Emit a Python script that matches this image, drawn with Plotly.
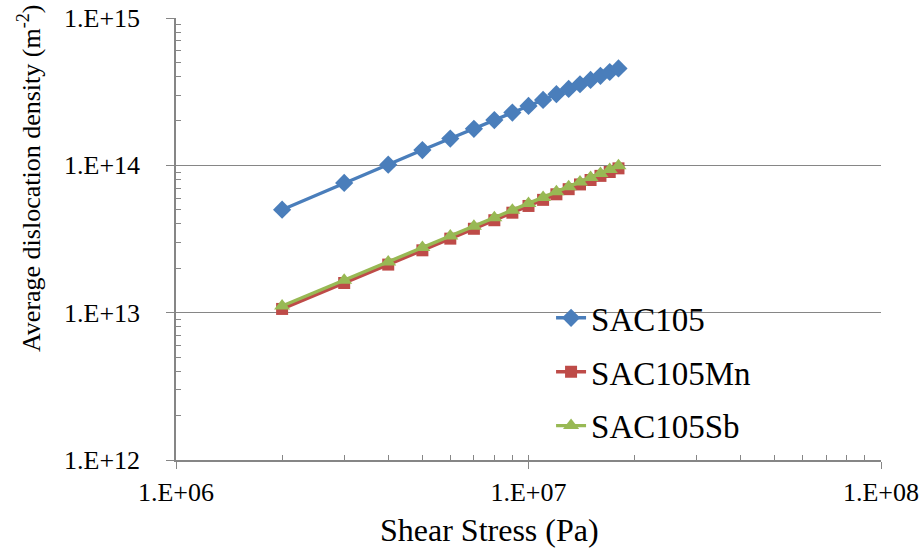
import plotly.graph_objects as go

# Shear stress (Pa)
shear_stress = [2e6, 3e6, 4e6, 5e6, 6e6, 7e6, 8e6, 9e6, 10e6, 11e6, 12e6,
                13e6, 14e6, 15e6, 16e6, 17e6, 18e6]

# Average dislocation density (m^-2)
sac105 = [5.0e13, 7.6e13, 1.01e14, 1.27e14, 1.52e14, 1.77e14, 2.03e14, 2.28e14,
          2.53e14, 2.78e14, 3.04e14, 3.30e14, 3.55e14, 3.80e14, 4.05e14, 4.30e14, 4.55e14]
sac105mn = [1.06e13, 1.59e13, 2.12e13, 2.65e13, 3.18e13, 3.71e13, 4.24e13, 4.77e13,
            5.30e13, 5.83e13, 6.36e13, 6.89e13, 7.42e13, 7.95e13, 8.48e13, 9.01e13, 9.54e13]
sac105sb = [1.11e13, 1.66e13, 2.21e13, 2.77e13, 3.31e13, 3.86e13, 4.41e13, 4.96e13,
            5.51e13, 6.06e13, 6.61e13, 7.16e13, 7.71e13, 8.26e13, 8.81e13, 9.36e13, 9.92e13]

series_names = ["SAC105", "SAC105Mn", "SAC105Sb"]

x_tickvals = [1e6, 1e7, 1e8]
x_ticktext = ["1.E+06", "1.E+07", "1.E+08"]
y_tickvals = [1e12, 1e13, 1e14, 1e15]
y_ticktext = ["1.E+12", "1.E+13", "1.E+14", "1.E+15"]

x_title = "Shear Stress (Pa)"
y_title = "Average dislocation density (m<sup>-2</sup>)"

# inner tick positions: every 1..9 step within each decade
x_inner = [m * 10 ** e for e in (6, 7) for m in range(1, 10)] + [1e8]
y_inner = [m * 10 ** e for e in (12, 13, 14) for m in range(1, 10)] + [1e15]

FONT = "Liberation Serif"
AXIS_GREY = "#868686"

styles = [
    dict(color="#4A7EBB", symbol="diamond", size=14),
    dict(color="#BE4B48", symbol="square", size=12),
    dict(color="#98B954", symbol="triangle-up", size=14),
]

fig = go.Figure()
for name, ys, st in zip(series_names, [sac105, sac105mn, sac105sb], styles):
    fig.add_trace(go.Scatter(
        x=shear_stress, y=ys, name=name, mode="lines+markers",
        legendgroup=name,
        line=dict(color=st["color"], width=3.4),
        marker=dict(symbol=st["symbol"], size=st["size"], color=st["color"],
                    line=dict(width=0)),
    ))

# invisible copy on the overlay axes so that their inner ticks are drawn
fig.add_trace(go.Scatter(
    x=shear_stress, y=sac105, xaxis="x2", yaxis="y2", mode="markers",
    marker=dict(opacity=0), showlegend=False, hoverinfo="skip",
))

fig.update_layout(
    template="none",
    width=923, height=552,
    margin=dict(l=176, r=42, t=18, b=92, autoexpand=False),
    paper_bgcolor="white", plot_bgcolor="white",
    font=dict(family=FONT, color="black", size=20),
    showlegend=True,
    legend=dict(
        x=0.532, y=0.385, xanchor="left", yanchor="top",
        bgcolor="rgba(0,0,0,0)", borderwidth=0,
        font=dict(family=FONT, size=33, color="black"),
        tracegroupgap=8, itemwidth=30,
    ),
    xaxis=dict(
        type="log", range=[6, 8], automargin=False,
        tickvals=x_tickvals, ticktext=x_ticktext,
        tickfont=dict(family=FONT, size=26, color="black"),
        ticks="outside", ticklen=7, tickcolor=AXIS_GREY, tickwidth=1,
        ticklabelstandoff=1,
        showline=True, linecolor=AXIS_GREY, linewidth=1.5,
        showgrid=False, zeroline=False,
    ),
    yaxis=dict(
        type="log", range=[12, 15], automargin=False,
        tickvals=y_tickvals, ticktext=y_ticktext,
        tickfont=dict(family=FONT, size=26, color="black"),
        ticks="outside", ticklen=8, tickcolor=AXIS_GREY, tickwidth=1,
        ticklabelstandoff=21,
        showline=True, linecolor=AXIS_GREY, linewidth=1.5,
        showgrid=True, gridcolor=AXIS_GREY, gridwidth=1.2,
        zeroline=False,
    ),
    # overlay axes carrying the short inward ticks
    xaxis2=dict(
        type="log", range=[6, 8], overlaying="x", anchor="y", side="bottom",
        tickvals=x_inner, showticklabels=False,
        ticks="inside", ticklen=5, tickcolor=AXIS_GREY, tickwidth=1,
        showline=False, showgrid=False, zeroline=False, automargin=False,
    ),
    yaxis2=dict(
        type="log", range=[12, 15], overlaying="y", anchor="x", side="left",
        tickvals=y_inner, showticklabels=False,
        ticks="inside", ticklen=5, tickcolor=AXIS_GREY, tickwidth=1,
        showline=False, showgrid=False, zeroline=False, automargin=False,
    ),
    annotations=[
        dict(text=x_title, xref="paper", yref="paper", x=0.445, y=-0.158,
             xanchor="center", yanchor="middle", showarrow=False,
             font=dict(family=FONT, size=32, color="black")),
        dict(text=y_title, xref="paper", yref="paper", x=-0.2085, y=0.638,
             xanchor="center", yanchor="middle", showarrow=False, textangle=-90,
             font=dict(family=FONT, size=26, color="black")),
    ],
)

fig.write_html("out.html")
